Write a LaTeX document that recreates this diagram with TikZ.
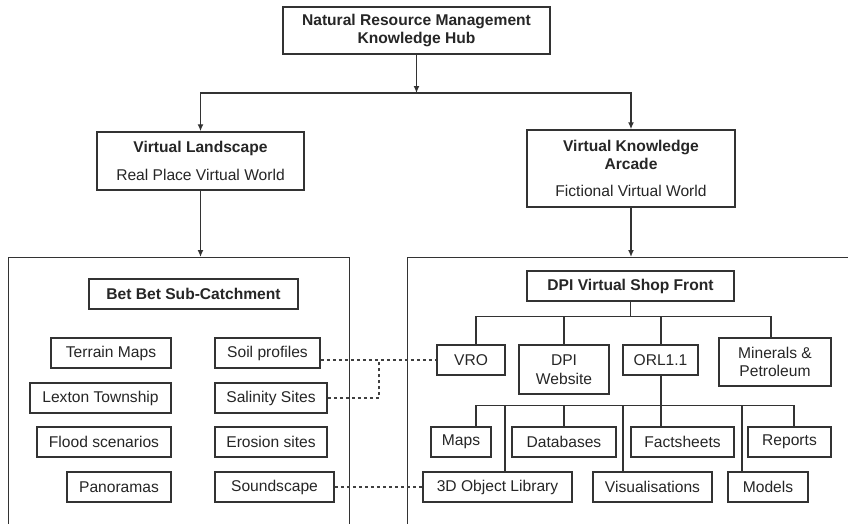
\documentclass[tikz,border=0pt]{standalone}
\usepackage{fontspec}
\setmainfont{Liberation Sans}
\usetikzlibrary{arrows.meta}
\newcommand\fsz{\fontsize{15.6}{17.5}\selectfont}
\begin{document}
\begin{tikzpicture}[x=1pt,y=-1pt,
  every node/.style={font=\fsz, text=black!85},
  bx/.style={draw=black!80, line width=1.5pt, inner sep=0pt, align=center, minimum height=30pt},
  bbx/.style={bx, font=\fsz\bfseries},
  ln/.style={draw=black!80, line width=1.4pt},
  arr/.style={ln, -{Latex[length=7pt,width=6pt]}},
  dsh/.style={draw=black!75, line width=1.3pt, dash pattern=on 3pt off 3pt},
  cont/.style={draw=black!80, line width=1.4pt, anchor=north west, minimum height=300pt, inner sep=0pt}
]
\useasboundingbox (0,0) rectangle (848,523);
\fill[white] (0,0) rectangle (848,523);

% top level
\node[bbx, minimum width=267pt, minimum height=47pt] (hub) at (416.5,30.5) {Natural Resource Management\\Knowledge Hub};
\node[bx, minimum width=207pt, minimum height=58pt] (vl) at (200.5,161) {\textbf{Virtual Landscape}\\[10pt]Real Place Virtual World};
\node[bx, minimum width=208pt, minimum height=77pt] (vka) at (631,168.5) {\textbf{Virtual Knowledge}\\[0.5pt]\textbf{Arcade}\\[10pt]Fictional Virtual World};

% containers
\node[cont, minimum width=341pt] (lc) at (8,257) {};
\node[cont, minimum width=480pt] (rc) at (407,257) {};

% arrows
\coordinate (hb) at (416.5,93);
\draw[arr] (hub.south) -- (hb);
\draw[arr] (hb) -| (vl.north);
\draw[arr] (hb) -| (vka.north);
\draw[arr] (vl.south) -- (vl.south |- lc.north);
\draw[arr] (vka.south) -- (vka.south |- rc.north);

% left panel
\node[bbx, minimum width=209pt] (bb) at (193.5,294) {Bet Bet Sub-Catchment};
\node[bx, minimum width=120pt] (terrain) at (111,353) {Terrain Maps};
\node[bx, minimum width=141pt] (lexton) at (100.5,398) {Lexton Township};
\node[bx, minimum width=134pt] (flood) at (104,442) {Flood scenarios};
\node[bx, minimum width=104pt] (pano) at (119,487) {Panoramas};
\node[bx, minimum width=105pt] (soil) at (267.5,353) {Soil profiles};
\node[bx, minimum width=112pt] (sal) at (271,398) {Salinity Sites};
\node[bx, minimum width=112pt] (ero) at (271,442) {Erosion sites};
\node[bx, minimum width=119pt] (sound) at (274.5,487) {Soundscape};

% right panel
\node[bbx, minimum width=207pt] (dpi) at (630.5,286) {DPI Virtual Shop Front};
\node[bx, minimum width=68pt] (vro) at (471,360) {VRO};
\node[bx, minimum width=90pt, minimum height=49pt] (web) at (564,369.5) {DPI\\[2pt]Website};
\node[bx, minimum width=75pt] (orl) at (660.5,360) {ORL1.1};
\node[bx, minimum width=112pt, minimum height=48pt] (min) at (775,362) {Minerals \&\\Petroleum};
\node[bx, minimum width=60pt] (maps) at (461,442) {Maps};
\node[bx, minimum width=104pt] (db) at (564,442) {Databases};
\node[bx, minimum width=103pt] (fact) at (682.5,442) {Factsheets};
\node[bx, minimum width=83pt] (rep) at (789.5,442) {Reports};
\node[bx, minimum width=149pt] (obj) at (497.5,487) {3D Object Library};
\node[bx, minimum width=119pt] (vis) at (652.5,487) {Visualisations};
\node[bx, minimum width=80pt] (models) at (768,487) {Models};

% tree under DPI Virtual Shop Front
\draw[ln] (dpi.south) -- ++(0,15) coordinate (b1);
\draw[ln] ([xshift=5pt]vro.north) |- (b1);
\draw[ln] (web.north) |- (b1);
\draw[ln] ([xshift=0.5pt]orl.north) |- (b1);
\draw[ln] ([xshift=-4pt]min.north) |- (b1);

% tree under ORL1.1
\draw[ln] ([xshift=0.5pt]orl.south) -- ++(0,30) coordinate (b2);
\draw[ln] ([xshift=15pt]maps.north) |- (b2);
\draw[ln] ([xshift=7.5pt]obj.north) |- (b2);
\draw[ln] (db.north) |- (b2);
\draw[ln] ([xshift=-29.5pt]vis.north) |- (b2);
\draw[ln] ([xshift=-21.5pt]fact.north) |- (b2);
\draw[ln] ([xshift=-26pt]models.north) |- (b2);
\draw[ln] ([xshift=4.5pt]rep.north) |- (b2);

% dashed links
\coordinate (j) at (379,360);
\draw[dsh] (soil.east |- vro.west) -- (vro.west);
\draw[dsh] (sal.east) -| (j);
\draw[dsh] (sound.east) -- (obj.west);
\end{tikzpicture}
\end{document}
